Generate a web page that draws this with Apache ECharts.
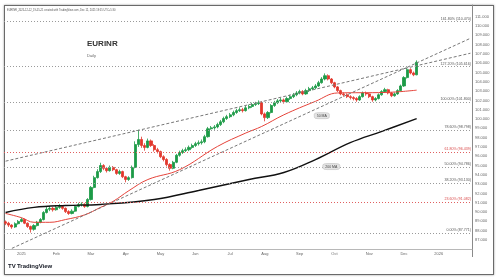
<!DOCTYPE html>
<html><head><meta charset="utf-8">
<script src="https://cdn.jsdelivr.net/npm/echarts@6/dist/echarts.min.js"></script>
<style>
html,body{margin:0;padding:0;background:#fff;}
#wrap{position:relative;width:500px;height:280px;overflow:hidden;background:#fff;}
#frame{position:absolute;left:4px;top:5px;width:488px;height:268px;border:1px solid #6a6a6a;box-shadow:0 0 2px #999;}
#chart{position:absolute;left:0;top:0;width:500px;height:280px;}
</style></head><body>
<div id="wrap"><div id="frame"></div><div id="chart"></div></div>
<script>
// ---- data ----
// slots: 5 in Dec 2024, 11 per month in 2025, 11 in Jan 2026
const monthPlan = [[2024,12,5],[2025,1,11],[2025,2,11],[2025,3,11],[2025,4,11],[2025,5,11],[2025,6,11],[2025,7,11],[2025,8,11],[2025,9,11],[2025,10,11],[2025,11,11],[2025,12,11],[2026,1,11]];
const monthNames = ['Jan','Feb','Mar','Apr','May','Jun','Jul','Aug','Sep','Oct','Nov','Dec'];
// candles: [open, close, low, high]
const candles = [
[88.95,88.80,88.60,89.10],[88.80,88.60,88.40,88.95],[88.60,88.40,88.20,88.70],[88.40,88.75,88.30,88.90],
[88.75,89.00,88.65,89.15],[89.00,89.20,88.90,89.40],[89.20,88.80,88.70,89.30],[88.80,88.45,88.30,88.90],
[88.45,88.15,87.80,88.55],[88.15,88.55,88.00,88.70],[88.55,88.90,88.45,89.05],[88.90,89.20,88.80,89.35],
[89.20,89.95,89.10,90.10],[89.95,90.30,89.85,90.55],[90.30,90.40,90.10,90.65],[90.40,90.25,90.05,90.55],
[90.25,90.50,90.15,90.70],[90.50,90.60,90.35,90.85],[90.60,90.40,90.25,90.75],[90.40,90.05,89.90,90.50],
[90.05,89.85,89.70,90.20],[89.85,90.10,89.75,90.30],[90.10,90.60,90.00,90.75],[90.60,90.80,90.50,91.00],
[90.80,90.85,90.60,91.05],[90.85,90.60,90.45,90.95],[90.60,91.35,90.50,91.50],[91.35,92.65,91.25,92.80],
[92.65,93.70,92.55,93.90],[93.70,94.35,93.60,94.60],[94.35,95.00,94.20,95.30],[95.00,94.70,94.50,95.15],
[94.70,94.45,94.25,94.85],[94.45,94.80,94.35,95.00],[94.80,94.55,94.40,94.95],[94.55,94.15,94.00,94.65],
[94.15,94.35,94.00,94.55],[94.35,93.80,93.65,94.45],[93.80,93.50,93.20,93.90],[93.50,93.70,93.35,93.85],
[93.70,94.80,93.60,95.00],[94.80,97.25,94.70,97.60],[97.25,97.80,97.00,98.85],[97.80,97.15,96.90,98.10],
[97.15,96.95,96.60,97.40],[96.95,97.65,96.85,97.90],[97.65,97.15,97.00,97.80],[97.15,96.70,96.50,97.30],
[96.70,96.50,96.30,96.90],[96.50,95.95,95.80,96.60],[95.95,95.65,95.45,96.10],[95.65,95.10,94.90,95.80],
[95.10,94.70,94.45,95.25],[94.70,95.35,94.60,95.50],[95.35,96.10,95.25,96.25],[96.10,96.40,95.95,96.60],
[96.40,96.60,96.25,96.80],[96.60,96.70,96.45,96.95],[96.70,96.95,96.55,97.15],[96.95,97.15,96.80,97.35],
[97.15,97.35,97.00,97.55],[97.35,97.45,97.15,97.70],[97.45,97.55,97.25,97.80],[97.55,98.10,97.40,98.30],
[98.10,98.95,98.00,99.15],[98.95,99.05,98.85,99.25],[99.05,99.15,98.85,99.35],[99.15,99.40,99.00,99.60],
[99.40,99.70,99.25,99.90],[99.70,100.05,99.55,100.25],[100.05,100.25,99.90,100.45],[100.25,100.45,100.10,100.65],
[100.45,100.70,100.30,100.90],[100.70,100.90,100.55,101.10],[100.90,101.00,100.75,101.25],[101.00,100.90,100.70,101.20],
[100.90,101.20,100.80,101.40],[101.20,101.35,101.05,101.55],[101.35,101.55,101.20,101.75],[101.55,101.65,101.40,101.85],
[101.65,101.75,101.50,102.00],[101.75,100.55,100.40,101.90],[100.55,100.15,99.75,100.70],[100.15,100.70,100.00,100.85],
[100.70,101.45,100.60,101.60],[101.45,101.75,101.30,101.95],[101.75,101.95,101.60,102.15],[101.95,102.05,101.80,102.30],
[102.05,101.85,101.65,102.20],[101.85,102.20,101.75,102.40],[102.20,102.40,102.05,102.60],[102.40,102.60,102.25,102.80],
[102.60,102.80,102.45,103.00],[102.80,102.95,102.65,103.15],[102.95,102.70,102.55,103.10],[102.70,103.05,102.60,103.25],
[103.05,103.25,102.90,103.45],[103.25,103.35,103.10,103.55],[103.35,103.55,103.20,103.75],[103.55,103.90,103.45,104.10],
[103.90,104.30,103.80,104.50],[104.30,104.65,104.15,104.90],[104.65,104.30,104.15,104.80],[104.30,103.90,103.75,104.40],
[103.90,103.45,103.30,104.00],[103.45,103.05,102.90,103.55],[103.05,102.70,102.55,103.15],[102.70,102.60,102.40,102.85],
[102.60,102.40,102.25,102.75],[102.40,102.30,102.10,102.55],[102.30,102.20,102.00,102.45],[102.20,102.05,101.85,102.35],
[102.05,102.40,101.95,102.55],[102.40,102.80,102.30,102.95],[102.80,102.70,102.50,102.95],[102.70,102.40,102.25,102.80],
[102.40,102.05,101.85,102.50],[102.05,102.20,101.90,102.35],[102.20,102.60,102.10,102.75],[102.60,102.95,102.50,103.10],
[102.95,103.15,102.80,103.35],[103.15,102.80,102.65,103.25],[102.80,102.50,102.35,102.90],[102.50,102.70,102.40,102.85],
[102.70,103.05,102.60,103.20],[103.05,103.55,102.95,103.70],[103.55,104.45,103.45,104.60],[104.45,105.30,104.35,105.50],
[105.30,104.95,104.80,105.45],[104.95,104.75,104.60,105.10],[104.75,106.10,104.70,106.30]
];
// moving averages as [slotIndex, value]
const ma50 = [[0,89.85],[5,89.40],[9,88.90],[14,88.90],[19,89.20],[25,89.70],[30,90.50],[34,91.15],[39,92.30],[45,93.50],[55,94.55],[67,97.05],[76,98.50],[81,99.20],[88,100.45],[98,101.90],[105,102.80],[120,102.85],[130,103.10]];
const ma200 = [[0,89.96],[9,90.50],[19,90.71],[30,90.82],[47,91.35],[61,92.32],[77,93.50],[88,94.25],[98,95.64],[109,97.46],[119,98.67],[130,100.05]];
// trend lines as [slotIndex, value]
const trendUpper = [[0,95.47],[147,107.07]];
const trendLower = [[2,86.10],[147,108.67]];
// Fibonacci levels
const fibPct = [0, 23.6, 38.2, 50, 61.8, 78.6, 100, 127.2, 161.8];
const fibPrice = [87.771, 91.082, 93.130, 94.786, 96.439, 98.798, 101.800, 105.616, 110.470];
const fibRed = [false, true, false, false, true, false, false, false, false];
// y tick labels range
const yTickMin = 87, yTickMax = 111;

// ---- build categories ----
const categories = [];
monthPlan.forEach(([y,m,n]) => {
  const dim = new Date(y, m, 0).getDate();
  for (let k = 0; k < n; k++) {
    const d = n === 11 ? 1 + Math.floor(k * dim / 11) : dim - (n - 1 - k) * 3;
    categories.push(y + '-' + String(m).padStart(2,'0') + '-' + String(d).padStart(2,'0'));
  }
});
const monthOf = s => s.slice(0,7);

const UP = '#1c9a46', DOWN = '#e2372c';
const chart = echarts.init(document.getElementById('chart'), null, {renderer:'canvas'});
const lastClose = candles[candles.length-1][1];
const font = 'Liberation Sans, Arial, sans-serif';

chart.setOption({
  animation: false,
  textStyle: {fontFamily: font},
  grid: {left: 4, right: 28, top: 5, bottom: 30.7, containLabel: false},
  xAxis: {
    type: 'category', data: categories, boundaryGap: true,
    axisLine: {show: true, lineStyle: {color: '#b8b8b8', width: 1}},
    axisTick: {show: false},
    splitLine: {show: false},
    axisLabel: {
      fontSize: 4, color: '#666', margin: 3,
      interval: (i, v) => i > 0 && monthOf(categories[i]) !== monthOf(categories[i-1]),
      formatter: v => { const m = +v.slice(5,7); return m === 1 ? v.slice(0,4) : monthNames[m-1]; }
    }
  },
  yAxis: {
    type: 'value', position: 'right', min: 86, max: 112.25, interval: 1, scale: true,
    axisLine: {show: true, lineStyle: {color: '#8a8a8a', width: 1}},
    axisTick: {show: false},
    splitLine: {show: false},
    axisLabel: {fontSize: 4, color: '#666', margin: 3,
      formatter: v => (v >= yTickMin - 1e-6 && v <= yTickMax + 1e-6) ? v.toFixed(3) : ''}
  },
  series: [
    {
      type: 'candlestick', data: candles, barWidth: 2.6,
      itemStyle: {color: UP, color0: DOWN, borderColor: UP, borderColor0: DOWN, borderWidth: 0.8},
      markLine: {
        silent: true, symbol: ['none','none'], animation: false,
        data: fibPct.map((p, i) => ({
          yAxis: fibPrice[i],
          lineStyle: {color: fibRed[i] ? '#e06060' : '#9a9a9a', type: [1,2], width: 1},
          label: {show: true, position: 'insideEndTop', distance: 1, fontSize: 3.6,
            color: fibRed[i] ? '#d94a4a' : '#555',
            formatter: p.toFixed(2) + '% (' + fibPrice[i].toFixed(3) + ')'}
        })).concat([{
          yAxis: lastClose,
          lineStyle: {opacity: 0},
          label: {show: true, position: 'end', distance: 1, fontSize: 3.8, color: '#fff',
            backgroundColor: '#1b7f36', padding: [1,2.5], formatter: lastClose.toFixed(3)}
        }])
      }
    },
    {
      type: 'line', data: ma50, smooth: 0.4, symbol: 'none',
      lineStyle: {color: '#e5433a', width: 1},
      markLine: {silent: true, symbol: ['none','none'],
        data: [{yAxis: ma50[ma50.length-1][1], lineStyle: {opacity: 0},
          label: {show: true, position: 'end', distance: 1, fontSize: 3.8, color: '#fff',
            backgroundColor: '#e53935', padding: [1,2.5], formatter: ma50[ma50.length-1][1].toFixed(3)}}]},
      markPoint: {symbol: 'roundRect', symbolSize: [15,6], silent: true,
        itemStyle: {color: '#e4e4e4', borderColor: '#bbb', borderWidth: 0.5},
        label: {show: true, fontSize: 3.5, color: '#444', formatter: '50 MA'},
        data: [{coord: [100, 100.36]}]}
    },
    {
      type: 'line', data: ma200, smooth: 0.4, symbol: 'none',
      lineStyle: {color: '#111', width: 1.4},
      markLine: {silent: true, symbol: ['none','none'],
        data: [{yAxis: ma200[ma200.length-1][1], lineStyle: {opacity: 0},
          label: {show: true, position: 'end', distance: 1, fontSize: 3.8, color: '#fff',
            backgroundColor: '#111', padding: [1,2.5], formatter: ma200[ma200.length-1][1].toFixed(3)}}]},
      markPoint: {symbol: 'roundRect', symbolSize: [17,6], silent: true,
        itemStyle: {color: '#e4e4e4', borderColor: '#bbb', borderWidth: 0.5},
        label: {show: true, fontSize: 3.5, color: '#444', formatter: '200 MA'},
        data: [{coord: [103, 94.89]}]}
    },
    {type: 'line', data: trendUpper, symbol: 'none', lineStyle: {color: '#777', width: 1, type: [3,2]}},
    {type: 'line', data: trendLower, symbol: 'none', lineStyle: {color: '#777', width: 1, type: [3,2]}}
  ],
  graphic: [
    {type: 'text', left: 7, top: 9, style: {text: 'EURINR_2025-12-12_19-55-21 created with TradingView.com, Dec 12, 2025 19:55 UTC+5:30', fontSize: 2.6, fill: '#555', fontFamily: font}},
    {type: 'text', left: 87, top: 39.5, style: {text: 'EURINR', fontSize: 8, fontWeight: 'bold', fill: '#333', fontFamily: 'Liberation Sans Narrow, Liberation Sans, sans-serif'}},
    {type: 'text', left: 87, top: 53.5, style: {text: 'Daily', fontSize: 4, fill: '#666', fontFamily: font}},
    {type: 'text', left: 8, top: 263, style: {text: 'TV', fontSize: 6, fontWeight: 900, fill: '#131722', fontFamily: font}},
    {type: 'text', left: 17, top: 263, style: {text: 'TradingView', fontSize: 6, fontWeight: 'bold', fill: '#131722', fontFamily: font}},
    {type: 'line', shape: {x1: 472.5, y1: 249, x2: 472.5, y2: 257}, style: {stroke: '#8a8a8a', lineWidth: 1}}
  ]
});
</script>
</body></html>
